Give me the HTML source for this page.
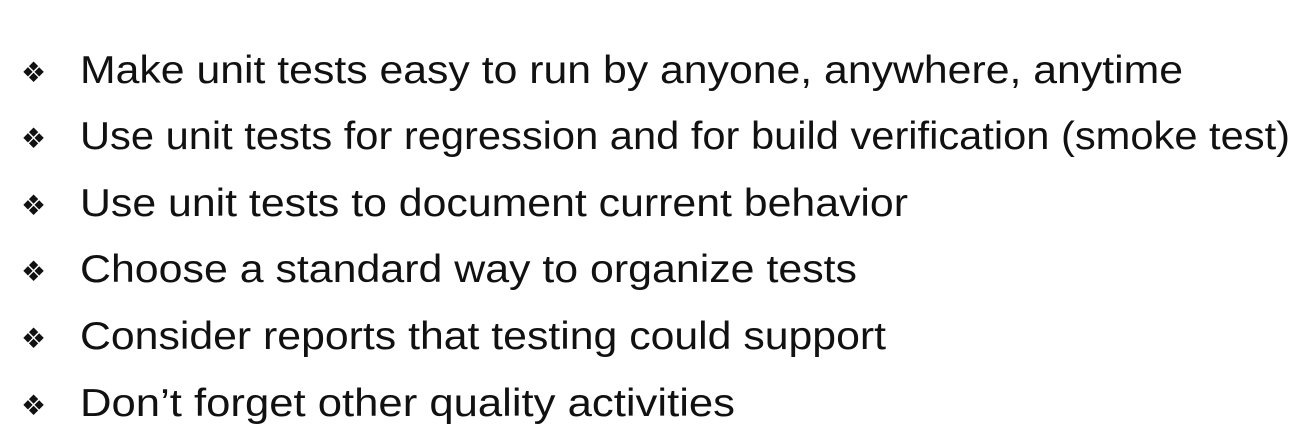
<!DOCTYPE html>
<html><head><meta charset="utf-8"><style>
html,body{margin:0;padding:0;background:#fff;width:1316px;height:446px;overflow:hidden}
svg text{font-family:"Liberation Sans",sans-serif;fill:#111}
</style></head><body>
<svg width="1316" height="446">
<g><text x="21" y="82" font-size="28">❖</text><text x="80" y="83" font-size="39" textLength="1103" lengthAdjust="spacingAndGlyphs">Make unit tests easy to run by anyone, anywhere, anytime</text></g>
<g><text x="21" y="148" font-size="28">❖</text><text x="80" y="149" font-size="39" textLength="1210" lengthAdjust="spacingAndGlyphs">Use unit tests for regression and for build verification (smoke test)</text></g>
<g><text x="21" y="215" font-size="28">❖</text><text x="80" y="216" font-size="39" textLength="828" lengthAdjust="spacingAndGlyphs">Use unit tests to document current behavior</text></g>
<g><text x="21" y="281" font-size="28">❖</text><text x="80" y="282" font-size="39" textLength="777" lengthAdjust="spacingAndGlyphs">Choose a standard way to organize tests</text></g>
<g><text x="21" y="348" font-size="28">❖</text><text x="80" y="349" font-size="39" textLength="806" lengthAdjust="spacingAndGlyphs">Consider reports that testing could support</text></g>
<g><text x="21" y="415" font-size="28">❖</text><text x="80" y="416" font-size="39" textLength="655" lengthAdjust="spacingAndGlyphs">Don’t forget other quality activities</text></g>
</svg>
</body></html>
